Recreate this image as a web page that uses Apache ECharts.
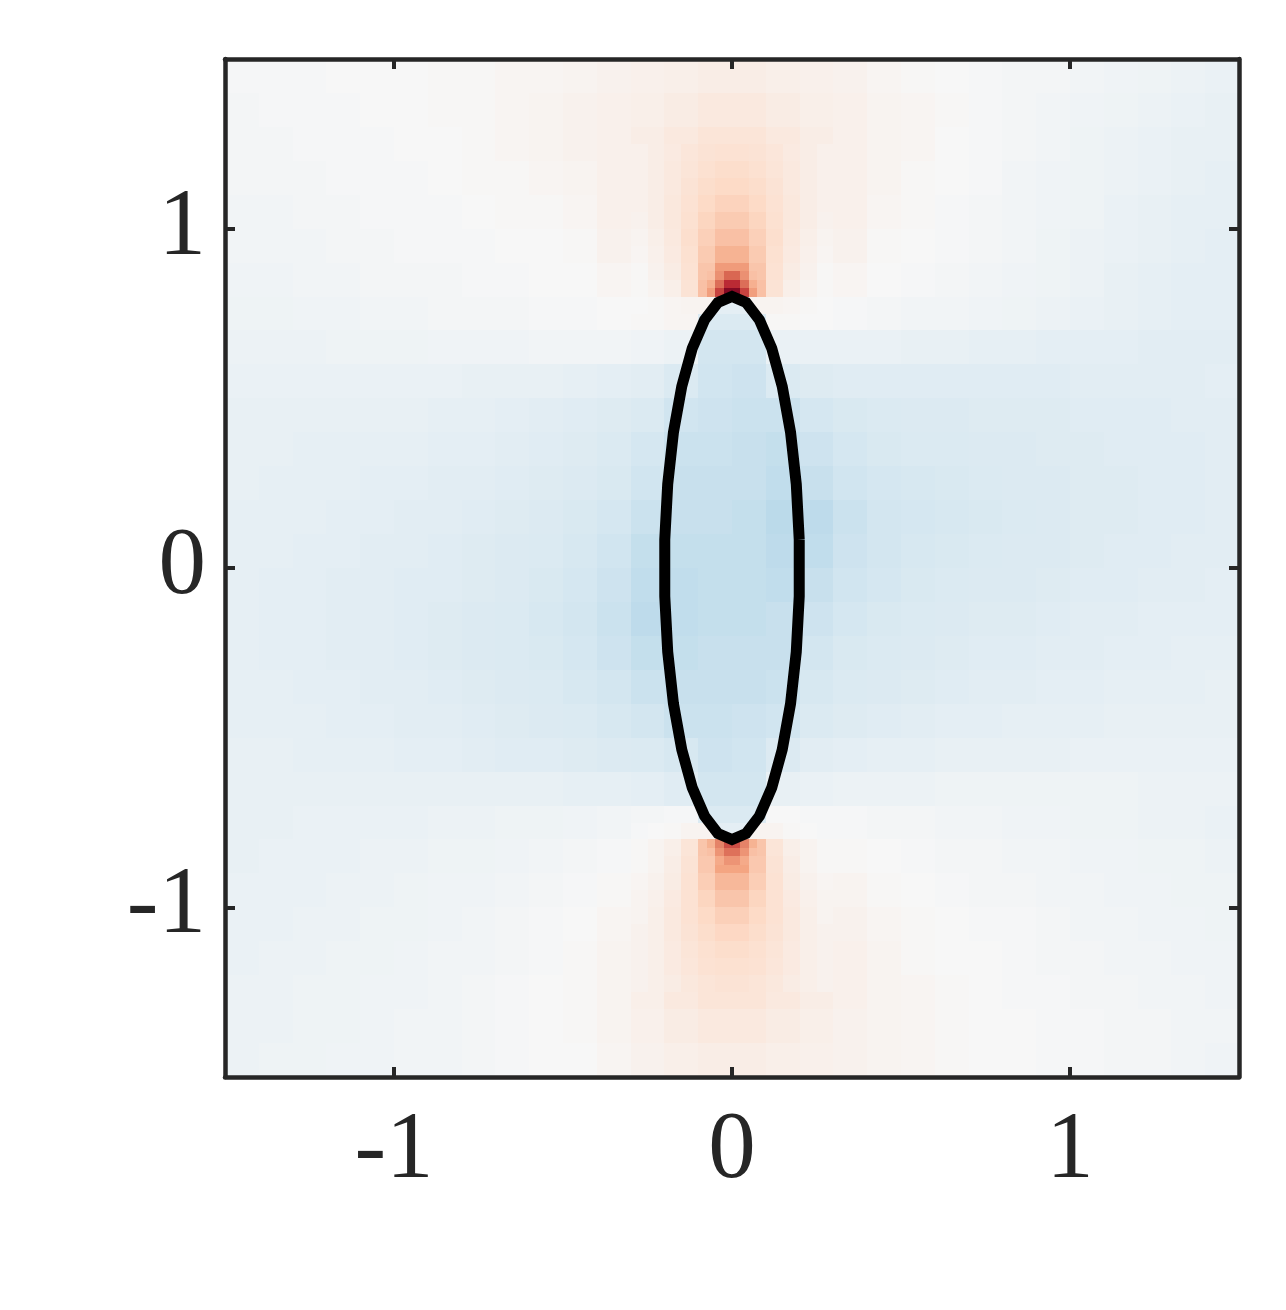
<!DOCTYPE html>
<html>
<head>
<meta charset="utf-8">
<script src="https://cdn.jsdelivr.net/npm/echarts@6/dist/echarts.min.js"></script>
<style>
  html, body { margin: 0; background: #fff; }
  #main { width: 1286px; height: 1310px; }
</style>
</head>
<body>
<div id="main"></div>
<script>
// coarse field: cell centres (x left->right, y top->bottom), cell size 0.1
const xCenters = [-1.45, -1.35, -1.25, -1.15, -1.05, -0.95, -0.85, -0.75, -0.65, -0.55, -0.45, -0.35, -0.25, -0.15, -0.05,
  0.05, 0.15, 0.25, 0.35, 0.45, 0.55, 0.65, 0.75, 0.85, 0.95, 1.05, 1.15, 1.25, 1.35, 1.45]
const yCenters = [1.45, 1.35, 1.25, 1.15, 1.05, 0.95, 0.85, 0.75, 0.65, 0.55, 0.45, 0.35, 0.25, 0.15, 0.05,
  -0.05, -0.15, -0.25, -0.35, -0.45, -0.55, -0.65, -0.75, -0.85, -0.95, -1.05, -1.15, -1.25, -1.35, -1.45]

// field values (x100), one row per yCenters entry
const fieldRows = [
  [-1, -1, -1, 0, 0, 0, 1, 1, 2, 2, 3, 4, 5, 6, 7, 7, 6, 5, 4, 2, 1, 0, -1, -2, -2, -3, -4, -5, -6, -7],
  [-2, -1, -1, -1, 0, 0, 1, 1, 2, 3, 4, 5, 6, 8, 10, 10, 8, 6, 5, 3, 2, 1, -1, -2, -3, -4, -5, -6, -7, -8],
  [-2, -2, -1, -1, -1, 0, 0, 1, 2, 3, 4, 5, 7, 10, 13, 13, 10, 7, 5, 3, 2, 0, -1, -2, -3, -5, -6, -7, -8, -8],
  [-2, -2, -2, -1, -1, -1, 0, 1, 1, 2, 3, 5, 8, 12, 17, 17, 12, 8, 5, 3, 1, 0, -1, -3, -4, -5, -6, -7, -8, -9],
  [-3, -3, -2, -2, -1, -1, -1, 0, 1, 1, 2, 5, 9, 16, 25, 25, 16, 9, 5, 2, 1, -1, -2, -3, -4, -5, -7, -8, -9, -9],
  [-3, -3, -3, -2, -2, -1, -1, -1, 0, 0, 1, 4, 9, 17, 32, 32, 17, 9, 4, 1, 0, -1, -2, -3, -5, -6, -7, -8, -9, -10],
  [-4, -4, -3, -3, -2, -2, -2, -1, -1, 0, 0, 2, 7, 17, 52, 52, 17, 7, 2, 0, -1, -2, -3, -4, -5, -6, -8, -9, -10, -10],
  [-5, -5, -4, -4, -3, -3, -2, -2, -2, -1, -1, 0, 1, 2, -15, -15, 1, 0, -1, -2, -3, -3, -4, -5, -6, -7, -8, -9, -10, -10],
  [-6, -6, -6, -5, -5, -5, -4, -4, -4, -3, -3, -3, -4, -6, -19, -19, -7, -7, -7, -7, -8, -8, -9, -9, -10, -10, -10, -11, -11, -11],
  [-7, -7, -7, -7, -7, -7, -7, -8, -8, -8, -9, -10, -11, -15, -20, -21, -15, -13, -12, -12, -12, -12, -12, -12, -12, -11, -11, -11, -11, -10],
  [-8, -8, -8, -8, -8, -8, -9, -9, -10, -11, -12, -13, -15, -20, -21, -22, -22, -18, -16, -15, -14, -14, -13, -13, -13, -12, -12, -12, -11, -11],
  [-8, -8, -9, -9, -9, -9, -10, -10, -11, -12, -13, -15, -18, -22, -22, -23, -24, -21, -18, -16, -15, -15, -14, -14, -13, -13, -12, -12, -12, -11],
  [-8, -9, -9, -9, -10, -10, -11, -11, -12, -13, -14, -16, -20, -23, -23, -23, -25, -23, -20, -18, -17, -16, -15, -14, -14, -13, -13, -12, -12, -11],
  [-9, -9, -9, -10, -10, -11, -11, -12, -13, -14, -16, -18, -22, -23, -23, -24, -27, -26, -22, -19, -18, -17, -16, -15, -14, -13, -13, -12, -12, -11],
  [-9, -9, -10, -10, -11, -11, -12, -13, -14, -15, -17, -20, -24, -24, -24, -24, -26, -25, -21, -19, -17, -16, -15, -14, -14, -13, -12, -12, -11, -11],
  [-9, -10, -10, -11, -11, -12, -12, -13, -14, -16, -18, -21, -25, -25, -24, -24, -25, -23, -20, -18, -16, -15, -14, -14, -13, -12, -12, -11, -11, -10],
  [-9, -10, -10, -11, -11, -12, -13, -14, -15, -17, -19, -22, -26, -25, -24, -24, -23, -21, -18, -16, -15, -14, -13, -13, -12, -11, -11, -10, -10, -10],
  [-9, -10, -10, -11, -11, -12, -13, -14, -15, -16, -18, -21, -24, -24, -23, -23, -23, -19, -16, -15, -14, -13, -12, -12, -11, -11, -10, -10, -9, -9],
  [-9, -9, -10, -10, -11, -11, -12, -13, -14, -15, -17, -19, -22, -23, -23, -23, -22, -17, -15, -14, -13, -12, -11, -11, -10, -10, -9, -9, -9, -8],
  [-9, -9, -9, -10, -10, -11, -11, -12, -13, -14, -15, -17, -19, -22, -22, -21, -20, -15, -13, -12, -11, -10, -10, -9, -9, -9, -8, -8, -8, -8],
  [-8, -8, -9, -9, -9, -10, -10, -11, -12, -12, -13, -14, -15, -17, -21, -20, -14, -11, -10, -9, -9, -8, -8, -8, -8, -7, -7, -7, -7, -7],
  [-8, -8, -8, -8, -8, -8, -8, -8, -8, -8, -9, -9, -10, -12, -19, -19, -8, -7, -6, -6, -6, -5, -5, -5, -5, -5, -5, -6, -6, -6],
  [-8, -8, -7, -7, -7, -7, -6, -6, -5, -5, -4, -3, -2, -1, -15, -15, 0, -1, -1, -2, -2, -3, -3, -4, -4, -5, -5, -6, -6, -7],
  [-8, -7, -7, -7, -6, -6, -5, -5, -4, -3, -2, -1, 2, 13, 42, 42, 14, 4, 1, 0, -1, -2, -2, -3, -3, -4, -4, -5, -5, -6],
  [-7, -7, -7, -6, -6, -5, -4, -4, -3, -2, -1, 1, 6, 15, 30, 30, 15, 7, 3, 1, 0, -1, -2, -2, -3, -3, -4, -4, -5, -5],
  [-7, -7, -6, -6, -5, -5, -4, -3, -2, -1, 0, 2, 7, 14, 23, 23, 14, 8, 4, 2, 1, 0, -1, -1, -2, -3, -3, -4, -4, -5],
  [-7, -6, -6, -5, -5, -4, -3, -3, -2, -1, 1, 3, 7, 12, 17, 17, 12, 8, 5, 3, 1, 0, 0, -1, -2, -2, -3, -3, -4, -4],
  [-6, -6, -5, -5, -4, -4, -3, -2, -1, 0, 1, 3, 6, 10, 13, 13, 10, 7, 5, 3, 2, 1, 0, -1, -1, -2, -2, -3, -3, -4],
  [-6, -6, -5, -5, -4, -3, -3, -2, -1, 0, 1, 3, 5, 8, 10, 10, 8, 6, 4, 3, 2, 1, 0, 0, -1, -1, -2, -2, -3, -3],
  [-6, -5, -5, -4, -4, -3, -3, -2, -1, 0, 0, 2, 4, 6, 7, 7, 6, 5, 4, 3, 2, 1, 0, 0, -1, -1, -2, -2, -3, -4]
]

// finer cells (size 0.05) around the two tips
const fineX = [-0.275, -0.225, -0.175, -0.125, -0.075, -0.025, 0.025, 0.075, 0.125, 0.175, 0.225, 0.275]
const topFineY = [1.225, 1.175, 1.125, 1.075, 1.025, 0.975, 0.925, 0.875, 0.825, 0.775]
const topFineRows = [
  [5, 7, 9, 12, 14, 15, 15, 14, 12, 9, 7, 5],
  [5, 7, 10, 13, 16, 18, 18, 16, 13, 10, 7, 5],
  [5, 7, 10, 14, 18, 20, 20, 18, 14, 10, 7, 5],
  [5, 7, 11, 15, 20, 23, 23, 20, 15, 11, 7, 5],
  [4, 7, 11, 16, 22, 26, 26, 22, 16, 11, 7, 4],
  [3, 6, 10, 17, 24, 30, 30, 24, 17, 10, 6, 3],
  [2, 5, 9, 16, 26, 35, 35, 26, 16, 9, 5, 2],
  [1, 4, 8, 15, 28, 43, 43, 28, 15, 8, 4, 1],
  [1, 3, 6, 14, 30, 62, 62, 30, 14, 6, 3, 1],
  [0, 1, 2, 3, 3, -10, -10, 3, 3, 2, 1, 0]
]
const bottomFineY = [-0.775, -0.825, -0.875, -0.925, -0.975, -1.025, -1.075, -1.125, -1.175, -1.225]
const bottomFineRows = [
  [-1, 0, 1, 3, 3, -10, -10, 3, 3, 1, 0, -1],
  [1, 3, 6, 13, 28, 50, 50, 28, 13, 6, 3, 1],
  [1, 3, 7, 14, 27, 40, 40, 27, 14, 7, 3, 1],
  [2, 4, 8, 15, 25, 33, 33, 25, 15, 8, 4, 2],
  [3, 5, 9, 15, 22, 28, 28, 22, 15, 9, 5, 3],
  [3, 6, 10, 15, 20, 24, 24, 20, 15, 10, 6, 3],
  [4, 6, 10, 14, 18, 21, 21, 18, 14, 10, 6, 4],
  [4, 6, 9, 13, 16, 18, 18, 16, 13, 9, 6, 4],
  [4, 6, 9, 12, 15, 16, 16, 15, 12, 9, 6, 4],
  [4, 6, 8, 11, 13, 14, 14, 13, 11, 8, 6, 4]
]

// smallest cells (size 0.025) right at the tips
const coreX = [-0.0625, -0.0375, -0.0125, 0.0125, 0.0375, 0.0625]
const topCoreY = [0.8125, 0.8375, 0.8625]
const topCoreRows = [
  [42, 68, 92, 92, 68, 42],
  [36, 56, 75, 75, 56, 36],
  [30, 46, 58, 58, 46, 30]
]
const bottomCoreY = [-0.8125, -0.8375, -0.8625]
const bottomCoreRows = [
  [35, 50, 65, 65, 50, 35],
  [30, 45, 55, 55, 45, 30],
  [27, 38, 45, 45, 38, 27]
]

// outline of the inclusion
const outlineX = [0.1989, 0.1902, 0.1732, 0.1486, 0.1176, 0.0813, 0.0416, 0, -0.0416, -0.0813, -0.1176, -0.1486, -0.1732, -0.1902, -0.1989,
  -0.1989, -0.1902, -0.1732, -0.1486, -0.1176, -0.0813, -0.0416, 0, 0.0416, 0.0813, 0.1176, 0.1486, 0.1732, 0.1902, 0.1989, 0.1989]
const outlineY = [0.0836, 0.2472, 0.4, 0.5353, 0.6472, 0.7308, 0.7825, 0.8, 0.7825, 0.7308, 0.6472, 0.5353, 0.4, 0.2472, 0.0836,
  -0.0836, -0.2472, -0.4, -0.5353, -0.6472, -0.7308, -0.7825, -0.8, -0.7825, -0.7308, -0.6472, -0.5353, -0.4, -0.2472, -0.0836, 0.0836]

const tickValues = [-1, 0, 1]

const INK = '#262626'
const FONT = 'Liberation Serif'

// [x, y, cellSize, value]; coarse first so finer cells are painted over them
const cells = []
function addCells(xs, ys, rows, size) {
  ys.forEach((y, r) => {
    xs.forEach((x, c) => {
      cells.push([x, y, size, rows[r][c]])
    })
  })
}
addCells(xCenters, yCenters, fieldRows, 0.1)
addCells(fineX, topFineY, topFineRows, 0.05)
addCells(fineX, bottomFineY, bottomFineRows, 0.05)
addCells(coreX, topCoreY, topCoreRows, 0.025)
addCells(coreX, bottomCoreY, bottomCoreRows, 0.025)

const outline = outlineX.map((x, i) => [x, outlineY[i]])

function renderCell(params, api) {
  const x = api.value(0)
  const y = api.value(1)
  const h = api.value(2) / 2
  const a = api.coord([x - h, y + h])
  const b = api.coord([x + h, y - h])
  const x0 = Math.round(a[0])
  const y0 = Math.round(a[1])
  return {
    type: 'rect',
    shape: { x: x0, y: y0, width: Math.round(b[0]) - x0, height: Math.round(b[1]) - y0 },
    style: { fill: api.visual('color') }
  }
}

function makeAxis(position, withLabels, margin) {
  return {
    type: 'value',
    position: position,
    min: -1.5,
    max: 1.5,
    z: 10,
    splitLine: { show: false },
    axisLine: { show: true, onZero: false, lineStyle: { color: INK, width: 4.5 } },
    axisTick: { show: true, inside: true, length: 10, customValues: tickValues, lineStyle: { color: INK, width: 4 } },
    axisLabel: {
      show: withLabels,
      customValues: tickValues,
      margin: margin,
      fontFamily: FONT,
      fontSize: 95,
      color: INK
    }
  }
}

const chart = echarts.init(document.getElementById('main'))
chart.setOption({
  animation: false,
  backgroundColor: '#fff',
  grid: { left: 225, top: 59, width: 1014, height: 1018 },
  xAxis: [makeAxis('bottom', true, 28), makeAxis('top', false, 0)],
  yAxis: [makeAxis('left', true, 19), makeAxis('right', false, 0)],
  visualMap: {
    show: false,
    type: 'continuous',
    min: -100,
    max: 100,
    dimension: 3,
    seriesIndex: 0,
    inRange: {
      color: ['#053061', '#2166ac', '#4393c3', '#92c5de', '#d1e5f0', '#f7f7f7',
        '#fddbc7', '#f4a582', '#d6604d', '#b2182b', '#67001f']
    }
  },
  series: [
    {
      type: 'custom',
      renderItem: renderCell,
      clip: true,
      encode: { x: 0, y: 1 },
      data: cells,
      silent: true,
      z: 1
    },
    {
      type: 'line',
      data: outline,
      symbol: 'none',
      silent: true,
      lineStyle: { color: '#000', width: 11, join: 'miter' },
      z: 5
    }
  ]
})
</script>
</body>
</html>
